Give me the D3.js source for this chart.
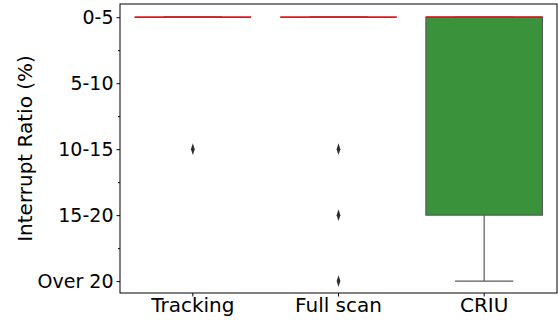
<!DOCTYPE html>
<html>
<head>
<meta charset="utf-8">
<script src="https://cdn.jsdelivr.net/npm/d3@7"></script>
<style>
  html, body { margin: 0; padding: 0; background: #fff; }
  svg { display: block; font-family: "DejaVu Sans", sans-serif; }
</style>
</head>
<body>
<svg id="chart" width="558" height="320"></svg>
<script>
// Methods compared
const methods = ["Tracking", "Full scan", "CRIU"];
// Interrupt ratio bins (index = ordinal level on the y axis)
const ratioBins = ["0-5", "5-10", "10-15", "15-20", "Over 20"];
// Box statistics per method, in bin levels
const q1Values = [0, 0, 0];
const medianValues = [0, 0, 0];
const q3Values = [0, 0, 3];
const whiskerLow = [0, 0, 0];
const whiskerHigh = [0, 0, 4];
const outlierValues = [[2], [2, 3, 4], []];
const boxColors = ["#3274a1", "#e1812c", "#3a923a"];

const svg = d3.select("#chart");
const margin = { left: 120, right: 1, top: 4, bottom: 27 };
const W = 558, H = 320;
const plotW = W - margin.left - margin.right;
const plotH = H - margin.top - margin.bottom;
const fontSize = 20;
const tickFontSize = 19;

const g = svg.append("g").attr("transform", `translate(${margin.left},${margin.top})`);

const x = d3.scaleBand().domain(methods).range([0, plotW]).paddingInner(0).paddingOuter(0);
const y = d3.scaleLinear().domain([-0.2, 4.18]).range([0, plotH]);

const boxW = x.bandwidth() * 0.8;
const capW = boxW * 0.5;
const lineColor = "#5a5a5a";

methods.forEach((m, i) => {
  const cx = x(m) + x.bandwidth() / 2;
  const grp = g.append("g");
  // whiskers
  grp.append("line")
    .attr("x1", cx).attr("x2", cx)
    .attr("y1", y(q3Values[i])).attr("y2", y(whiskerHigh[i]))
    .attr("stroke", lineColor).attr("stroke-width", 1.2);
  grp.append("line")
    .attr("x1", cx).attr("x2", cx)
    .attr("y1", y(whiskerLow[i])).attr("y2", y(q1Values[i]))
    .attr("stroke", lineColor).attr("stroke-width", 1.2);
  // caps
  [whiskerLow[i], whiskerHigh[i]].forEach(v => {
    grp.append("line")
      .attr("x1", cx - capW / 2).attr("x2", cx + capW / 2)
      .attr("y1", y(v)).attr("y2", y(v))
      .attr("stroke", lineColor).attr("stroke-width", 1.2);
  });
  // box
  grp.append("rect")
    .attr("x", cx - boxW / 2).attr("width", boxW)
    .attr("y", y(q1Values[i])).attr("height", y(q3Values[i]) - y(q1Values[i]))
    .attr("fill", boxColors[i]).attr("stroke", lineColor).attr("stroke-width", 1.2);
  // median
  grp.append("line")
    .attr("x1", cx - boxW / 2).attr("x2", cx + boxW / 2)
    .attr("y1", y(medianValues[i])).attr("y2", y(medianValues[i]))
    .attr("stroke", "#e8141b").attr("stroke-width", 1.8);
  // outliers
  const diamond = d3.symbol().type(d3.symbolDiamond).size(22);
  grp.selectAll("path.flier").data(outlierValues[i]).enter().append("path")
    .attr("class", "flier")
    .attr("d", diamond)
    .attr("transform", d => `translate(${cx},${y(d)}) scale(0.75,1.35)`)
    .attr("fill", "#2e2e2e");
});

// frame
g.append("rect").attr("x", 0).attr("y", 0).attr("width", plotW).attr("height", plotH)
  .attr("fill", "none").attr("stroke", "#000").attr("stroke-width", 1);

// y axis
const yAxis = d3.axisLeft(y).tickValues(d3.range(ratioBins.length))
  .tickFormat(d => ratioBins[d]).tickSize(3.5).tickPadding(3);
const ya = g.append("g").call(yAxis);
ya.select(".domain").remove();
ya.selectAll("text").attr("font-size", tickFontSize).attr("fill", "#000")
  .attr("font-family", "DejaVu Sans, sans-serif");
ya.selectAll("line").attr("stroke", "#000");

// minor ticks
const minorAxis = d3.axisLeft(y).tickValues(d3.range(0.5, 4, 1)).tickFormat("").tickSize(2);
const ym = g.append("g").call(minorAxis);
ym.select(".domain").remove();
ym.selectAll("line").attr("stroke", "#000");

// x axis
const xAxis = d3.axisBottom(x).tickSize(3.5).tickPadding(1);
const xa = g.append("g").attr("transform", `translate(0,${plotH})`).call(xAxis);
xa.select(".domain").remove();
xa.selectAll("text").attr("font-size", fontSize).attr("fill", "#000")
  .attr("font-family", "DejaVu Sans, sans-serif");
xa.selectAll("line").attr("stroke", "#000");

// y label
svg.append("text")
  .attr("transform", `translate(32,${margin.top + plotH / 2}) rotate(-90)`)
  .attr("text-anchor", "middle")
  .attr("font-size", fontSize)
  .text("Interrupt Ratio (%)");
</script>
</body>
</html>
